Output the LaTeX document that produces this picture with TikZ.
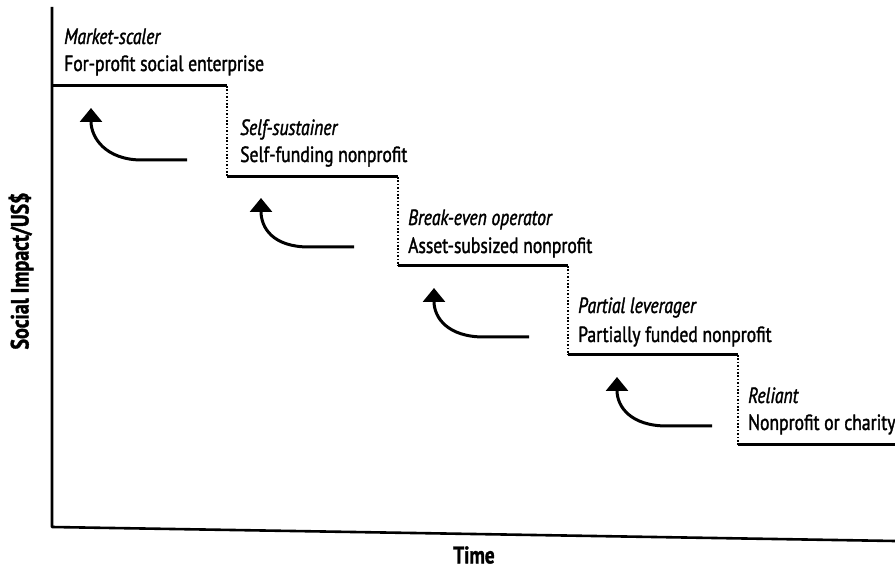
\documentclass[tikz,border=0pt]{standalone}
\usepackage{fontspec}
\setmainfont{PT Sans}[FakeStretch=0.8,FakeBold=1.5]
\usetikzlibrary{arrows.meta}
\begin{document}
\begin{tikzpicture}[x=1pt,y=-1pt,
  axis/.style={line width=2.6pt,line join=round},
  stepline/.style={line width=3pt},
  riser/.style={line width=2pt,dash pattern=on 1.6pt off 1.8pt},
  curvearrow/.style={line width=3pt,-{Triangle[width=22pt,length=14pt]}},
  lbl/.style={anchor=base west,inner sep=0pt,font=\fontsize{22}{26}\selectfont},
  ital/.style={lbl,font=\fontsize{22}{26}\selectfont\itshape},
  axlbl/.style={inner sep=0pt,font=\fontsize{24}{28}\selectfont\bfseries},
  ylbl/.style={inner sep=0pt,font=\fontsize{25}{28}\selectfont\bfseries}]
\useasboundingbox (0,0) rectangle (895,569);
% axes
\coordinate (ytop) at (52,7);
\coordinate (orig) at (52,527);
\coordinate (xend) at (895,541);
\draw[axis] (ytop) -- (orig) -- (xend);
\node[ylbl,rotate=90] (ylab) at (21,271) {Social Impact/US\$};
\node[axlbl] (xlab) at (474,555) {Time};
% steps
\coordinate (s0) at (52,86);
\coordinate (c1) at (227,86);
\coordinate (s1) at (227,177);
\coordinate (c2) at (398,177);
\coordinate (s2) at (398,266);
\coordinate (c3) at (568,266);
\coordinate (s3) at (568,355);
\coordinate (c4) at (738,355);
\coordinate (s4) at (738,445);
\coordinate (c5) at (895,445);
\draw[stepline] (s0) -- (c1);
\draw[stepline] (s1) -- (c2);
\draw[stepline] (s2) -- (c3);
\draw[stepline] (s3) -- (c4);
\draw[stepline] (s4) -- (c5);
\draw[riser] (c1) -- (s1);
\draw[riser] (c2) -- (s2);
\draw[riser] (c3) -- (s3);
\draw[riser] (c4) -- (s4);
% labels
\node[ital] (t1a) at (64,44) {Market-scaler};
\node[lbl] (t1b) at (64,71) {For-profit social enterprise};
\node[ital] (t2a) at (240,135) {Self-sustainer};
\node[lbl] (t2b) at (240,162) {Self-funding nonprofit};
\node[ital] (t3a) at (408,225) {Break-even operator};
\node[lbl] (t3b) at (408,253) {Asset-subsized nonprofit};
\node[ital] (t4a) at (578,313) {Partial leverager};
\node[lbl] (t4b) at (578,342) {Partially funded nonprofit};
\node[ital] (t5a) at (748,403) {Reliant};
\node[lbl] (t5b) at (748,430) {Nonprofit or charity};
% arrows
\coordinate (a1s) at (187,160); \coordinate (a1e) at (91,108);
\coordinate (a2s) at (354,247); \coordinate (a2e) at (261,198);
\coordinate (a3s) at (529,337); \coordinate (a3e) at (434,288);
\coordinate (a4s) at (712,426); \coordinate (a4e) at (617,377);
\draw[curvearrow] (a1s) -- ++(-45,0) .. controls ++(-36,0) and ++(0,30) .. (a1e);
\draw[curvearrow] (a2s) -- ++(-45,0) .. controls ++(-36,0) and ++(0,30) .. (a2e);
\draw[curvearrow] (a3s) -- ++(-45,0) .. controls ++(-36,0) and ++(0,30) .. (a3e);
\draw[curvearrow] (a4s) -- ++(-45,0) .. controls ++(-36,0) and ++(0,30) .. (a4e);
\end{tikzpicture}
\end{document}
